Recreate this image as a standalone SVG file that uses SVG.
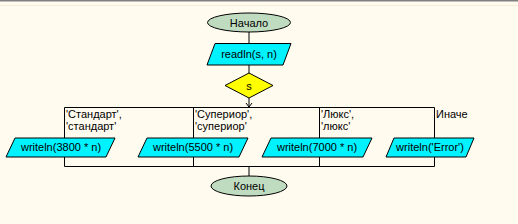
<svg xmlns="http://www.w3.org/2000/svg" width="518" height="224" viewBox="0 0 518 224">
<style>
.s{stroke:#000;stroke-width:1;fill:none}
.term{fill:#C0DCC0;stroke:#000;stroke-width:1}
.io{fill:#00F2FF;stroke:#000;stroke-width:1}
.dec{fill:#FFFF00;stroke:#000;stroke-width:1}
text{font-family:"Liberation Sans",Arial,sans-serif;font-size:11px;fill:#000}
.c{text-anchor:middle}
</style>
<rect x="0" y="0" width="518" height="224" fill="#FFFBEF"/>
<rect x="0" y="0" width="518" height="1.5" fill="#808080"/>
<line x1="0" y1="5.5" x2="518" y2="5.5" stroke="#F3EDD8" stroke-width="1"/>
<g id="connectors">
<path class="s" d="M249 32V43M249 65V73M249 98V107"/>
<path class="s" d="M246 103L249 107L252 103"/>
<path class="s" d="M64.5 107.5H434.5M64.5 107.5V166.5M193.5 107.5V166.5M319.5 107.5V166.5M434.5 107.5V166.5M64.5 166.5H434.5M249 166.5V176"/>
</g>
<g id="start">
<ellipse class="term" cx="249" cy="22.5" rx="41.5" ry="9.5"/>
<text class="c" x="249" y="26.5">Начало</text>
</g>
<g id="read">
<polygon class="io" points="215,43.5 291,43.5 283,65 207,65"/>
<text class="c" x="249" y="58">readln(s, n)</text>
</g>
<g id="decision">
<polygon class="dec" points="249,73 273,85.5 249,98 225,85.5"/>
<text class="c" x="249" y="89.5">s</text>
</g>
<g id="labels">
<text x="66" y="118">'Стандарт',</text>
<text x="66" y="130">'стандарт'</text>
<text x="195" y="118">'Супериор',</text>
<text x="195" y="130">'супериор'</text>
<text x="321" y="118">'Люкс',</text>
<text x="321" y="130">'люкс'</text>
<text x="436" y="118">Иначе</text>
</g>
<g id="out1">
<polygon class="io" points="15,138 115,138 106,157 6,157"/>
<text class="c" x="61" y="151">writeln(3800 * n)</text>
</g>
<g id="out2">
<polygon class="io" points="147,138 248,138 239,157 138,157"/>
<text class="c" x="193" y="151">writeln(5500 * n)</text>
</g>
<g id="out3">
<polygon class="io" points="271,138 372,138 363,157 262,157"/>
<text class="c" x="317" y="151">writeln(7000 * n)</text>
</g>
<g id="out4">
<polygon class="io" points="394,138 474,138 466,157 386,157"/>
<text class="c" x="430" y="151">writeln('Error')</text>
</g>
<g id="end">
<ellipse class="term" cx="249" cy="186" rx="38" ry="10"/>
<text class="c" x="249" y="190">Конец</text>
</g>
</svg>
